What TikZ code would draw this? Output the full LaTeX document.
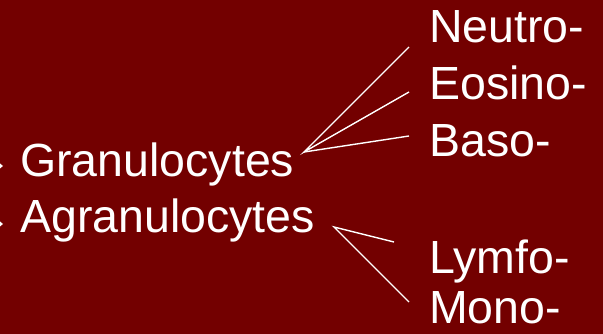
\documentclass[tikz,border=0pt]{standalone}
\usepackage{fontspec}
\setmainfont{Liberation Sans}
\usepackage{tikz}

\definecolor{slidered}{HTML}{730000}
\tikzset{
    label text/.style={text=white, inner sep=0pt, anchor=base west, font=\fontsize{46.5}{46.5}\selectfont},
    fan line/.style={white, line width=1.4pt}
}

\begin{document}
\begin{tikzpicture}[x=1pt, y=-1pt]
    \fill[slidered] (0,0) rectangle (603,334);
    \useasboundingbox (0,0) rectangle (603,334);
    % clipped bullets at the left edge
    \fill[white] (-3,161) -- (3,166) -- (-3,171) -- cycle;
    \fill[white] (-3,219) -- (3,224) -- (-3,229) -- cycle;
    % main groups
    \node[label text] (gran) at (20,177) {Granulocytes};
    \node[label text] (agran) at (20,233) {Agranulocytes};
    % subtypes
    \node[label text] (neutro) at (429,43) {Neutro-};
    \node[label text] (eosino) at (429,100) {Eosino-};
    \node[label text] (baso) at (429,157) {Baso-};
    \node[label text] (lymfo) at (429,273) {Lymfo-};
    \node[label text] (mono) at (429,323) {Mono-};
    % fans
    \coordinate (granfan) at (304,152);
    \coordinate (agranfan) at (334,227);
    \coordinate (neutroend) at (409,47);
    \coordinate (eosinoend) at (409,92);
    \coordinate (basoend) at (409,136);
    \coordinate (lymfoend) at (394,242);
    \coordinate (monoend) at (409,302);
    \draw[fan line] (neutroend) -- (granfan) -- (eosinoend);
    \draw[fan line] (granfan) -- (basoend);
    \draw[fan line] (lymfoend) -- (agranfan) -- (monoend);
\end{tikzpicture}
\end{document}
